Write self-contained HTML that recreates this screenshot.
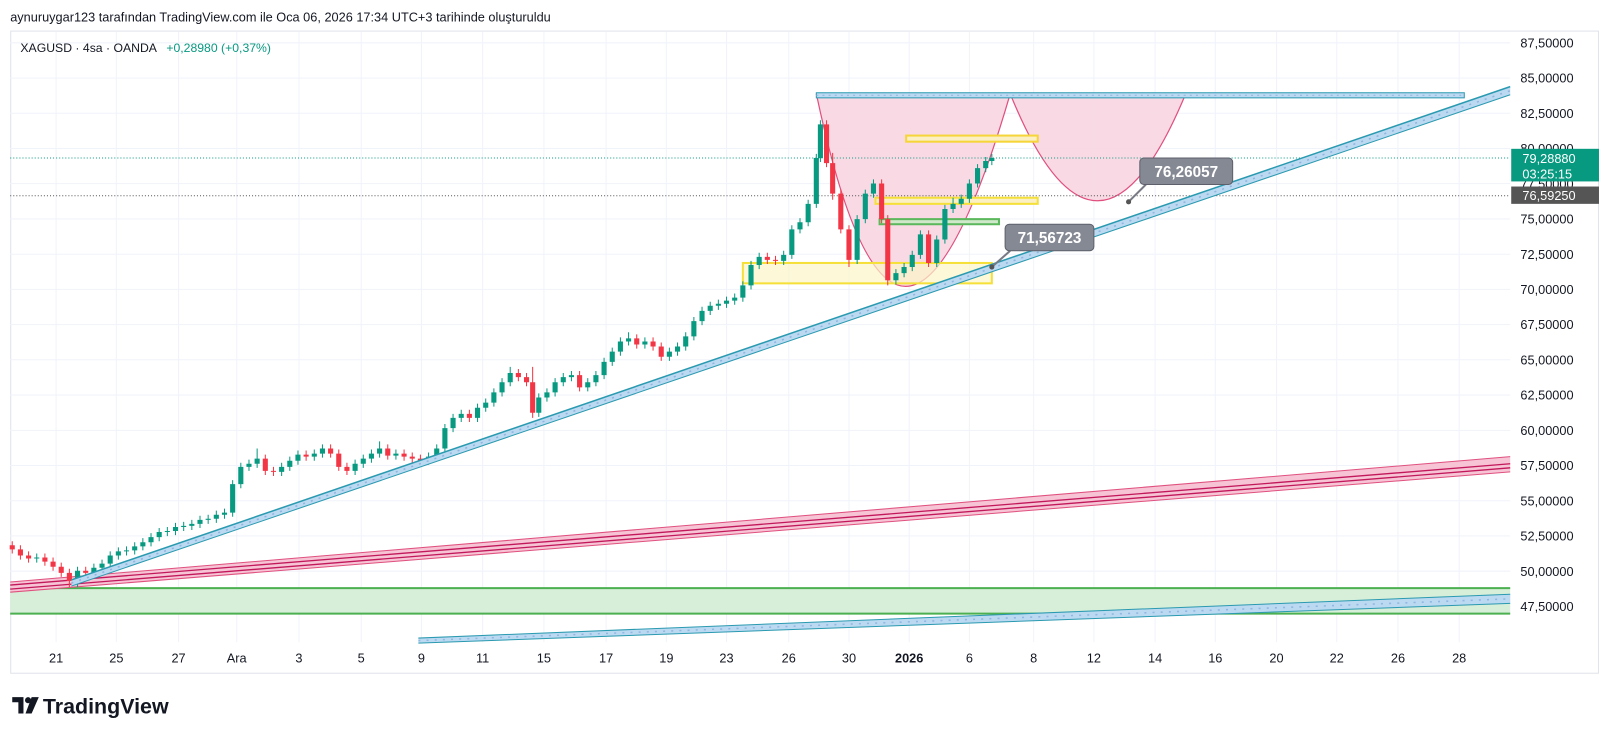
<!DOCTYPE html>
<html><head><meta charset="utf-8"><style>
html,body{margin:0;padding:0;background:#fff;}
svg{display:block;font-family:"Liberation Sans",sans-serif;}
</style></head><body>
<svg width="1600" height="741" viewBox="0 0 1568 727" preserveAspectRatio="none" xmlns="http://www.w3.org/2000/svg">
<rect width="1568" height="727" fill="#fff"/>
<text x="10" y="21" font-size="12.5" fill="#131722">aynuruygar123 tarafından TradingView.com ile Oca 06, 2026 17:34 UTC+3 tarihinde oluşturuldu</text>
<rect x="10.5" y="30.5" width="1556" height="630" fill="none" stroke="#e0e3eb"/>
<g stroke="#f0f3fa" stroke-width="1">
<path d="M10 42H1480M10 76.6H1480M10 111.1H1480M10 145.7H1480M10 180.2H1480M10 214.8H1480M10 249.4H1480M10 283.9H1480M10 318.5H1480M10 353H1480M10 387.6H1480M10 422.2H1480M10 456.7H1480M10 491.3H1480M10 525.8H1480M10 560.4H1480M10 595H1480"/>
<path d="M55 31V630M114 31V630M175 31V630M232 31V630M293 31V630M354 31V630M413 31V630M473 31V630M533 31V630M594 31V630M653 31V630M712 31V630M773 31V630M832 31V630M891 31V630M950 31V630M1013 31V630M1072 31V630M1132 31V630M1191 31V630M1251 31V630M1310 31V630M1370 31V630M1430 31V630"/>
</g>
<!-- green zone -->
<rect x="10" y="577" width="1470" height="25" fill="#d7eed9"/>
<line x1="10" y1="577" x2="1480" y2="577" stroke="#4caf50" stroke-width="2"/>
<line x1="10" y1="602" x2="1480" y2="602" stroke="#4caf50" stroke-width="2"/>
<!-- lower blue band -->
<polygon points="410,626 1480,583 1480,592 410,631" fill="#bcd9f2"/>
<line x1="410" y1="626" x2="1480" y2="583" stroke="#2a9ab0" stroke-width="1"/>
<line x1="410" y1="631" x2="1480" y2="592" stroke="#2a9ab0" stroke-width="1"/>
<line x1="410" y1="628.5" x2="1480" y2="587.5" stroke="#90b8e0" stroke-width="1.5" stroke-dasharray="2,6"/>
<!-- pink channel -->
<polygon points="10,571 1480,448 1480,463 10,581" fill="#f6c4d4"/>
<line x1="10" y1="571" x2="1480" y2="448" stroke="#e0507f" stroke-width="1"/>
<line x1="10" y1="581" x2="1480" y2="463" stroke="#e0507f" stroke-width="1"/>
<line x1="10" y1="574" x2="1480" y2="455" stroke="#c2185b" stroke-width="1.3"/>
<line x1="10" y1="578" x2="1480" y2="459" stroke="#c2185b" stroke-width="1.3"/>
<!-- cups -->
<path d="M800,92 Q880,470 990,92 Z" fill="#f8d3df" fill-opacity="0.85"/>
<path d="M800,92 Q880,470 990,92" fill="none" stroke="#e0507f" stroke-width="1.2"/>
<path d="M990,92 Q1075,302 1162,92 Z" fill="#f8d3df" fill-opacity="0.85"/>
<path d="M990,92 Q1075,302 1162,92" fill="none" stroke="#e0507f" stroke-width="1.2"/>
<!-- dotted price lines -->
<line x1="10" y1="155" x2="1480" y2="155" stroke="#089981" stroke-width="1" stroke-dasharray="1,2"/>
<line x1="10" y1="192" x2="1480" y2="192" stroke="#555" stroke-width="1" stroke-dasharray="1,2"/>
<!-- yellow/green boxes -->
<rect x="728" y="258" width="244" height="20" fill="#fbf5c8" fill-opacity="0.7" stroke="#f5e03a" stroke-width="2"/>
<rect x="888" y="133" width="129" height="6" fill="#fbefc4" stroke="#f5d53a" stroke-width="2"/>
<rect x="858" y="194" width="159" height="6" fill="#fbefc4" stroke="#f5e03a" stroke-width="2"/>
<rect x="862" y="215" width="117" height="5" fill="#cfe8c9" stroke="#5cb85c" stroke-width="2"/>
<!-- candles: red -->
<path stroke="#f23645" stroke-width="1" fill="none" d="M12 531V543M20 535V549M28 541V552M44 543V555M52 547V560M60 552V566M68 558V576M84 556V566M260 446V466M268 458V467M300 442V452M324 436V449M332 441V462M340 454V466M380 436V451M396 441V452M404 444V454M412 446V456M460 402V414M508 362V374M516 366V379M522 360V410M568 364V384M624 328V342M640 331V344M648 336V354M752 248V259M760 251V260M810 118V164M816 150V196M824 186V229M832 221V262M864 176V219M870 211V280M910 226V262"/>
<path fill="#f23645" d="M9.5 535h5v4h-5zM17.5 539h5v6h-5zM25.5 545h5v3h-5zM41.5 547h5v4h-5zM49.5 551h5v5h-5zM57.5 556h5v6h-5zM65.5 562h5v8h-5zM81.5 560h5v2h-5zM257.5 450h5v12h-5zM265.5 462h5v1h-5zM297.5 446h5v2h-5zM321.5 440h5v5h-5zM329.5 445h5v13h-5zM337.5 458h5v4h-5zM377.5 440h5v7h-5zM393.5 445h5v3h-5zM401.5 448h5v2h-5zM409.5 450h5v2h-5zM457.5 406h5v4h-5zM505.5 366h5v4h-5zM513.5 370h5v5h-5zM519.5 375h5v30h-5zM565.5 368h5v12h-5zM621.5 332h5v6h-5zM637.5 335h5v5h-5zM645.5 340h5v10h-5zM749.5 252h5v3h-5zM757.5 255h5v1h-5zM807.5 122h5v38h-5zM813.5 160h5v30h-5zM821.5 190h5v35h-5zM829.5 225h5v30h-5zM861.5 180h5v35h-5zM867.5 215h5v60h-5zM907.5 230h5v28h-5z"/>
<!-- candles: green -->
<path stroke="#089981" stroke-width="1" fill="none" d="M36 543V552M76 556V576M92 553V566M100 549V561M108 541V557M116 537V549M124 536V545M132 532V544M140 528V540M148 523V536M156 518V531M164 517V526M172 513V525M180 512V521M188 510V520M196 506V518M204 505V514M212 501V513M220 499V509M228 471V507M236 454V479M244 451V462M252 440V459M276 454V467M284 448V462M292 442V456M308 441V452M316 436V449M348 451V466M356 446V459M364 441V454M372 433V449M388 441V451M420 444V456M428 436V452M436 416V444M444 406V424M452 402V414M468 396V414M476 391V404M484 381V399M492 371V389M500 360V379M528 386V409M536 381V394M544 371V389M552 366V379M560 364V374M576 371V384M584 364V379M592 351V372M600 341V359M608 331V349M616 326V339M632 331V342M656 341V354M664 336V349M672 326V344M680 311V334M688 301V319M696 296V309M704 294V304M712 291V302M720 288V299M728 276V296M736 256V284M744 248V264M768 246V260M776 221V254M784 214V229M792 196V222M800 151V204M804 118V159M840 211V259M848 186V219M856 176V194M878 264V279M886 258V272M894 246V266M902 226V254M918 231V262M926 201V239M934 194V209M942 191V204M950 176V199M958 161V184M966 154V169M972 151V162"/>
<path fill="#089981" d="M33.5 547h5v1h-5zM73.5 560h5v10h-5zM89.5 557h5v5h-5zM97.5 553h5v4h-5zM105.5 545h5v8h-5zM113.5 541h5v4h-5zM121.5 540h5v1h-5zM129.5 536h5v4h-5zM137.5 532h5v4h-5zM145.5 527h5v5h-5zM153.5 522h5v5h-5zM161.5 521h5v1h-5zM169.5 517h5v4h-5zM177.5 516h5v1h-5zM185.5 514h5v2h-5zM193.5 510h5v4h-5zM201.5 509h5v1h-5zM209.5 505h5v4h-5zM217.5 503h5v2h-5zM225.5 475h5v28h-5zM233.5 458h5v17h-5zM241.5 455h5v3h-5zM249.5 450h5v5h-5zM273.5 458h5v5h-5zM281.5 452h5v6h-5zM289.5 446h5v6h-5zM305.5 445h5v3h-5zM313.5 440h5v5h-5zM345.5 455h5v7h-5zM353.5 450h5v5h-5zM361.5 445h5v5h-5zM369.5 440h5v5h-5zM385.5 445h5v2h-5zM417.5 448h5v4h-5zM425.5 440h5v8h-5zM433.5 420h5v20h-5zM441.5 410h5v10h-5zM449.5 406h5v4h-5zM465.5 400h5v10h-5zM473.5 395h5v5h-5zM481.5 385h5v10h-5zM489.5 375h5v10h-5zM497.5 366h5v9h-5zM525.5 390h5v15h-5zM533.5 385h5v5h-5zM541.5 375h5v10h-5zM549.5 370h5v5h-5zM557.5 368h5v2h-5zM573.5 375h5v5h-5zM581.5 368h5v7h-5zM589.5 355h5v13h-5zM597.5 345h5v10h-5zM605.5 335h5v10h-5zM613.5 332h5v3h-5zM629.5 335h5v3h-5zM653.5 345h5v5h-5zM661.5 340h5v5h-5zM669.5 330h5v10h-5zM677.5 315h5v15h-5zM685.5 305h5v10h-5zM693.5 300h5v5h-5zM701.5 298h5v2h-5zM709.5 295h5v3h-5zM717.5 292h5v3h-5zM725.5 280h5v12h-5zM733.5 260h5v20h-5zM741.5 252h5v8h-5zM765.5 250h5v6h-5zM773.5 225h5v25h-5zM781.5 218h5v7h-5zM789.5 200h5v18h-5zM797.5 155h5v45h-5zM801.5 122h5v33h-5zM837.5 215h5v40h-5zM845.5 190h5v25h-5zM853.5 180h5v10h-5zM875.5 268h5v7h-5zM883.5 262h5v6h-5zM891.5 250h5v12h-5zM899.5 230h5v20h-5zM915.5 235h5v23h-5zM923.5 205h5v30h-5zM931.5 200h5v5h-5zM939.5 195h5v5h-5zM947.5 180h5v15h-5zM955.5 165h5v15h-5zM963.5 158h5v7h-5zM969.5 155h5v3h-5z"/>
<!-- main blue trend -->
<polygon points="70,569 1480,85 1480,93 70,575" fill="#bcd9f2"/>
<line x1="70" y1="569" x2="1480" y2="85" stroke="#2a9ab0" stroke-width="1.5"/>
<line x1="70" y1="575" x2="1480" y2="93" stroke="#2a9ab0" stroke-width="1"/>
<line x1="70" y1="572" x2="1480" y2="89" stroke="#8fb6de" stroke-width="1.5" stroke-dasharray="2,6"/>
<!-- top horizontal -->
<rect x="800" y="91" width="635" height="5" fill="#bcd9f2" stroke="#2a9ab0" stroke-width="1"/>
<line x1="800" y1="93.5" x2="1435" y2="93.5" stroke="#8fb6de" stroke-dasharray="2,4"/>
<!-- callouts -->
<path d="M972,262 L990,246" stroke="#787b86" stroke-width="2"/>
<circle cx="972" cy="262" r="2.5" fill="#555"/>
<rect x="985" y="220" width="87" height="26" rx="4" fill="#858993" stroke="#5d606b"/>
<text x="1028.5" y="238.5" font-size="15" font-weight="bold" fill="#fff" text-anchor="middle">71,56723</text>
<path d="M1106,198 L1124,180" stroke="#787b86" stroke-width="2"/>
<circle cx="1106" cy="198" r="2.5" fill="#555"/>
<rect x="1117" y="155" width="91" height="26" rx="4" fill="#858993" stroke="#5d606b"/>
<text x="1162.5" y="173.5" font-size="15" font-weight="bold" fill="#fff" text-anchor="middle">76,26057</text>
<!-- header -->
<text x="20" y="51" font-size="12" fill="#131722">XAGUSD · 4sa · OANDA</text>
<text x="163" y="51" font-size="12" fill="#089981">+0,28980 (+0,37%)</text>
<!-- price axis -->
<g font-size="12.5" fill="#131722">
<text x="1490" y="46.5">87,50000</text>
<text x="1490" y="81">85,00000</text>
<text x="1490" y="115.6">82,50000</text>
<text x="1490" y="150.2">80,00000</text>
<text x="1490" y="184.7">77,50000</text>
<text x="1490" y="219.3">75,00000</text>
<text x="1490" y="253.9">72,50000</text>
<text x="1490" y="288.4">70,00000</text>
<text x="1490" y="323">67,50000</text>
<text x="1490" y="357.5">65,00000</text>
<text x="1490" y="392.1">62,50000</text>
<text x="1490" y="426.7">60,00000</text>
<text x="1490" y="461.2">57,50000</text>
<text x="1490" y="495.8">55,00000</text>
<text x="1490" y="530.3">52,50000</text>
<text x="1490" y="564.9">50,00000</text>
<text x="1490" y="599.5">47,50000</text>
</g>
<rect x="1481" y="146" width="86" height="32" fill="#089981"/>
<text x="1492" y="160" font-size="12.5" fill="#fff">79,28880</text>
<text x="1492" y="175" font-size="12.5" fill="#fff">03:25:15</text>
<rect x="1481" y="183" width="86" height="17" fill="#555"/>
<text x="1492" y="196" font-size="12.5" fill="#fff">76,59250</text>
<!-- dates -->
<g font-size="12.5" fill="#131722" text-anchor="middle">
<text x="55" y="650">21</text><text x="114" y="650">25</text><text x="175" y="650">27</text><text x="232" y="650">Ara</text><text x="293" y="650">3</text><text x="354" y="650">5</text><text x="413" y="650">9</text><text x="473" y="650">11</text><text x="533" y="650">15</text><text x="594" y="650">17</text><text x="653" y="650">19</text><text x="712" y="650">23</text><text x="773" y="650">26</text><text x="832" y="650">30</text><text x="891" y="650" font-weight="bold">2026</text><text x="950" y="650">6</text><text x="1013" y="650">8</text><text x="1072" y="650">12</text><text x="1132" y="650">14</text><text x="1191" y="650">16</text><text x="1251" y="650">20</text><text x="1310" y="650">22</text><text x="1370" y="650">26</text><text x="1430" y="650">28</text>
</g>
<!-- logo -->
<g transform="translate(12,682)">
<path d="M0,2 h11 v16 h-5 v-11 h-6z" fill="#131722"/>
<circle cx="15.5" cy="5" r="3" fill="#131722"/>
<path d="M19,2 h7 l-7,16 h-6z" fill="#131722"/>
</g>
<text x="42" y="700" font-size="21" font-weight="bold" fill="#131722">TradingView</text>
</svg>
</body></html>
